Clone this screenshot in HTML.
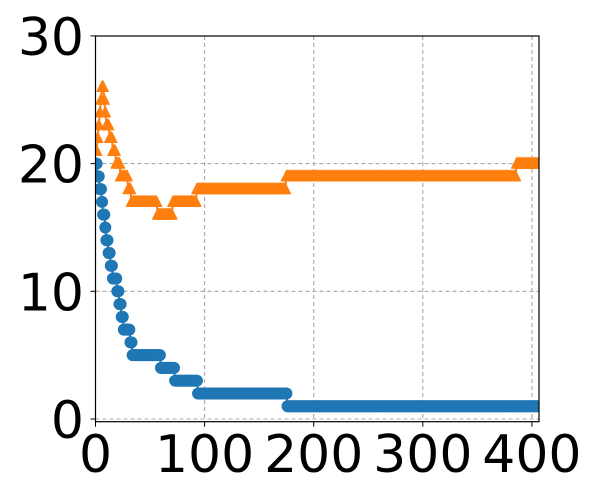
<!DOCTYPE html>
<html><head><meta charset="utf-8"><style>
html,body{margin:0;padding:0;background:#fff;}
svg{display:block;font-family:"DejaVu Sans","Liberation Sans",sans-serif;}
</style></head><body>
<svg id="chart" width="600" height="500"></svg>
<script>
const xTicks=[0,100,200,300,400];
const yTicks=[0,10,20,30];
// run-length data: [startX, value] per series, each run continues until next start
const blueRuns=[[0,20],[2,19],[4,18],[6,17],[7,16],[9,15],[10,14],[12,13],[14,12],[16,11],[20,10],[22,9],[24,8],[26,7],[32,6],[34,5],[60,4],[73,3],[94,2],[176,1]];
const orangeRuns=[[0,21],[2,22],[3,23],[4,24],[5,25],[6,26],[8,25],[9,24],[10,23],[13,22],[16,21],[19,20],[23,19],[30,18],[33,17],[57,16],[71,17],[93,18],[175,19],[386,20]];
const xMax=406;
const NS='http://www.w3.org/2000/svg';
const svg=document.getElementById('chart');
const L=95.5,R=539,T=36,B=421.7;
const xs=v=>L+(v-0)*(R-L)/(406.5-0);
const ys=v=>419-v*12.77;
function mk(tag,attrs){const e=document.createElementNS(NS,tag);for(const k in attrs)e.setAttribute(k,attrs[k]);svg.appendChild(e);return e;}
function expand(runs){const pts=[];for(let i=0;i<runs.length;i++){const end=i+1<runs.length?runs[i+1][0]:xMax+1;for(let x=runs[i][0];x<end;x++)pts.push([x,runs[i][1]]);}return pts;}
// grid
xTicks.forEach(t=>{const g=mk('line',{x1:xs(t),x2:xs(t),y1:T,y2:B,stroke:'#a8a8a8','stroke-width':1.1,'stroke-dasharray':'4,3'});

});
yTicks.forEach(t=>{const g=mk('line',{x1:L,x2:R,y1:ys(t),y2:ys(t),stroke:'#a8a8a8','stroke-width':1.1,'stroke-dasharray':'4,3'});

});
function series(runs,color,name,marker){
 const pts=expand(runs);
 const pl=mk('polyline',{points:pts.map(p=>xs(p[0])+','+ys(p[1])).join(' '),fill:'none',stroke:color,'stroke-width':2});
 
 
 pts.forEach(p=>{const cx=xs(p[0]),cy=ys(p[1]);let m;
  if(marker==='c')m=mk('circle',{cx:cx,cy:cy,r:6,fill:color});
  else m=mk('polygon',{points:`${cx},${cy-7} ${cx-6},${cy+5} ${cx+6},${cy+5}`,fill:color});
  
  });
}
series(orangeRuns,'#ff7f0e','orange-series','t');
series(blueRuns,'#1f77b4','blue-series','c');
// white mask outside plot
[[0,0,600,T],[0,B,600,500-B],[0,0,L,500],[R,0,600-R,500]].forEach(r=>{const m=mk('rect',{x:r[0],y:r[1],width:r[2],height:r[3],fill:'#fff'});

});
const fr=mk('rect',{x:L,y:T,width:R-L,height:B-T,fill:'none',stroke:'#000','stroke-width':1.2});


xTicks.forEach(t=>{const tk=mk('line',{x1:xs(t),x2:xs(t),y1:B,y2:B+5,stroke:'#000','stroke-width':1});


const tx=mk('text',{x:xs(t),y:472,'text-anchor':'middle','font-size':52,fill:'#000'});tx.textContent=t;

});
yTicks.forEach(t=>{const tk=mk('line',{x1:L-5,x2:L,y1:ys(t),y2:ys(t),stroke:'#000','stroke-width':1});


const tx=mk('text',{x:84,y:ys(t)+19,'text-anchor':'end','font-size':52,fill:'#000'});tx.textContent=t;

});
</script>
</body></html>
